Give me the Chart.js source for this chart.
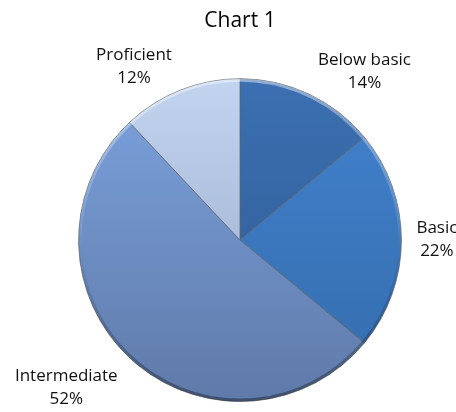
<!DOCTYPE html>
<html>
<head>
<meta charset="utf-8">
<script src="https://cdn.jsdelivr.net/npm/chart.js@4"></script>
<style>
    html, body { margin: 0; padding: 0; background: #fff; }
    canvas { display: block; }
</style>
</head>
<body>
<canvas id="pieChart" width="456" height="412"></canvas>
<script>
// Chart data
const chartTitle = 'Chart 1';
const categories = ['Below basic', 'Basic', 'Intermediate', 'Proficient'];
const percents = [14, 22, 52, 12];

// slice shading: lighter at the top of the pie, darker at the bottom
const topColors = ['#3c70b2', '#4282ce', '#7ca2de', '#c2d4ef'];
const bottomColors = ['#2d5890', '#346cac', '#5f7aa9', '#93a6c5'];

const LABEL_FONT = '17px "Open Sans"';
const LINE_H = 23;

// outside labels, placed from each arc's own geometry
const outsideLabels = {
    id: 'outsideLabels',
    afterDatasetsDraw(chart) {
        const ctx = chart.ctx;
        const meta = chart.getDatasetMeta(0);
        ctx.save();
        ctx.font = LABEL_FONT;
        ctx.fillStyle = '#111';
        ctx.textAlign = 'center';
        ctx.textBaseline = 'middle';
        meta.data.forEach((arc, i) => {
            const p = arc.getProps(['x', 'y', 'startAngle', 'endAngle', 'outerRadius'], true);
            const mid = (p.startAngle + p.endAngle) / 2;
            const cos = Math.cos(mid), sin = Math.sin(mid);
            const lines = [categories[i], percents[i] + '%'];
            const w = Math.max(...lines.map(l => ctx.measureText(l).width));
            const h = LINE_H * lines.length;
            const ax = p.x + cos * (p.outerRadius + 10);
            const ay = p.y + sin * (p.outerRadius + 10);
            const side = Math.abs(cos) < 0.05 ? 0 : Math.sign(cos);
            const cx = ax + side * (w / 2 + 5);
            const cy = ay + sin * h / 2 + 8 * Math.abs(sin);
            lines.forEach((l, k) => {
                ctx.fillText(l, cx, cy - h / 2 + LINE_H * (k + 0.5));
            });
        });
        ctx.restore();
    }
};

// soft bevel round the rim
const rimBevel = {
    id: 'rimBevel',
    afterDatasetsDraw(chart) {
        const arc = chart.getDatasetMeta(0).data[0];
        if (!arc) return;
        const p = arc.getProps(['x', 'y', 'outerRadius'], true);
        const ctx = chart.ctx;
        ctx.save();
        const g = ctx.createLinearGradient(0, p.y - p.outerRadius, 0, p.y + p.outerRadius);
        g.addColorStop(0, 'rgba(255,255,255,0.45)');
        g.addColorStop(0.45, 'rgba(255,255,255,0.1)');
        g.addColorStop(0.6, 'rgba(0,0,0,0.05)');
        g.addColorStop(1, 'rgba(0,0,0,0.35)');
        ctx.strokeStyle = g;
        ctx.lineWidth = 3;
        ctx.beginPath();
        ctx.arc(p.x, p.y, p.outerRadius - 1.5, 0, Math.PI * 2);
        ctx.stroke();
        ctx.restore();
    }
};

function sliceFill(c) {
    const area = c.chart.chartArea;
    if (!area) return topColors[c.dataIndex];
    const g = c.chart.ctx.createLinearGradient(0, area.top, 0, area.bottom);
    g.addColorStop(0, topColors[c.dataIndex]);
    g.addColorStop(1, bottomColors[c.dataIndex]);
    return g;
}

function draw() {
    new Chart(document.getElementById('pieChart'), {
        type: 'pie',
        data: {
            labels: categories,
            datasets: [{
                data: percents,
                backgroundColor: sliceFill,
                borderColor: 'rgba(95, 100, 110, 0.75)',
                borderWidth: 1,
            }]
        },
        options: {
            responsive: false,
            animation: false,
            layout: { padding: { left: 78, right: 54, top: 0, bottom: 10 } },
            plugins: {
                legend: { display: false },
                tooltip: { enabled: false },
                title: {
                    display: true,
                    text: chartTitle,
                    color: '#000',
                    font: { family: '"Open Sans"', size: 21, weight: 'normal' },
                    padding: { top: 8, bottom: 45 }
                }
            }
        },
        plugins: [rimBevel, outsideLabels]
    });
}

if (document.fonts && document.fonts.load) {
    document.fonts.load(LABEL_FONT).then(draw, draw);
} else {
    draw();
}
</script>
</body>
</html>
